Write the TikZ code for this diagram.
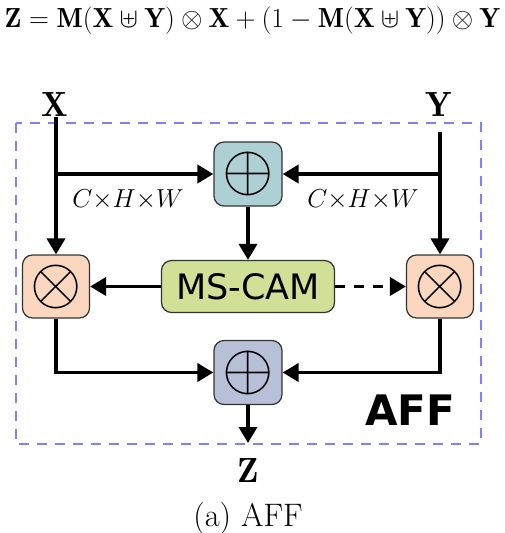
\RequirePackage{fix-cm}
\documentclass[tikz,border=0pt]{standalone}
\usepackage{fontspec}
\usetikzlibrary{arrows.meta}
\newfontfamily\camfont{DejaVu Sans}
\definecolor{addtopc}{RGB}{172,208,212}
\definecolor{addbotc}{RGB}{184,192,216}
\definecolor{mulc}{RGB}{250,215,190}
\definecolor{camc}{RGB}{208,224,150}
\definecolor{framec}{RGB}{128,128,255}
\tikzset{
  opbox/.style={draw=black!80, line width=1.2pt, rounded corners=10pt,
    minimum width=68pt, minimum height=64pt, inner sep=0pt,
    font=\fontsize{66}{66}\selectfont},
  flow/.style={line width=3.6pt, -{Triangle[length=16pt,width=18pt]}},
}
\begin{document}
\begin{tikzpicture}[x=1pt,y=-1pt]
  \useasboundingbox (0,0) rectangle (505,533);
  % formula on top
  \node (eq) at (252.5,21) {\fontsize{27.6}{31}\selectfont
    $\mathbf{Z}=\mathbf{M}(\mathbf{X}\uplus\mathbf{Y})\otimes\mathbf{X}
     +(1-\mathbf{M}(\mathbf{X}\uplus\mathbf{Y}))\otimes\mathbf{Y}$};
  % dashed frame
  \draw [framec, line width=2pt, dash pattern=on 10pt off 8pt] %
        (16,123) rectangle (481,444);
  \node (aff) at (410,410) {\camfont\bfseries\fontsize{42}{42}\selectfont AFF};
  % inputs
  \node (xlab) at (55,104) {\fontsize{35}{40}\selectfont$\mathbf{X}$};
  \node (ylab) at (439,104) {\fontsize{35}{40}\selectfont$\mathbf{Y}$};
  \coordinate (xin) at (56,117);
  \coordinate (yin) at (440,132);
  % operation boxes
  \node [opbox, fill=addtopc] (addtop) at (248,174) {$\oplus$};
  \node [opbox, fill=mulc, minimum width=67pt, minimum height=63pt] %
        (mull) at (56,286.5) {$\otimes$};
  \node [opbox, fill=mulc, minimum width=67pt, minimum height=63pt] %
        (mulr) at (440,286.5) {$\otimes$};
  \node [opbox, fill=camc, minimum width=173pt, minimum height=52pt, %
        font=\camfont\fontsize{35}{35}\selectfont] (mscam) at (248,286.5) {MS-CAM};
  \node [opbox, fill=addbotc] (addbot) at (248,372.5) {$\oplus$};
  \coordinate (zout) at (248,443);
  \node (zlab) at (248,470) {\fontsize{35}{40}\selectfont$\mathbf{Z}$};
  % shape labels
  \node (dimx) at (128,200) {\fontsize{26}{30}\selectfont$C{\times}H{\times}W$};
  \node (dimy) at (363,200) {\fontsize{26}{30}\selectfont$C{\times}H{\times}W$};
  % connections
  \draw [flow] (xin) -- (mull.north);
  \draw [flow] (yin) -- (mulr.north);
  \draw [flow] (xin |- addtop) -- (addtop.west);
  \draw [flow] (yin |- addtop) -- (addtop.east);
  \draw [flow] (addtop.south) -- (mscam.north);
  \draw [flow] (mscam.west) -- (mull.east);
  \draw [flow, dash pattern=on 10pt off 9pt] (mscam.east) -- (mulr.west);
  \draw [flow] (mull.south) |- (addbot.west);
  \draw [flow] (mulr.south) |- (addbot.east);
  \draw [flow] (addbot.south) -- (zout);
  % caption
  \node (cap) at (248,518) {\fontsize{32.5}{38}\selectfont(a) AFF};
\end{tikzpicture}
\end{document}
